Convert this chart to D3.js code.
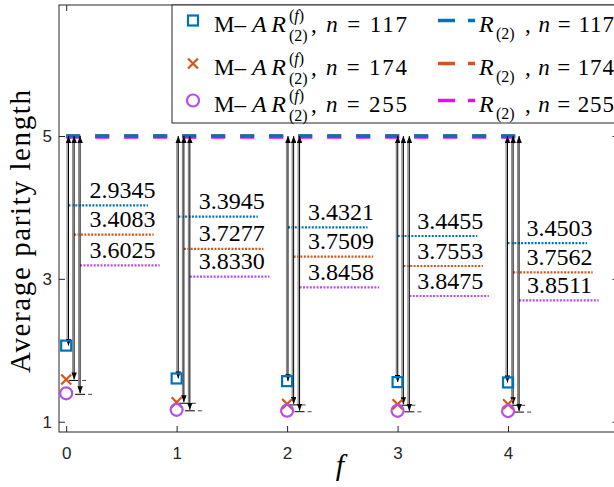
<!DOCTYPE html>
<html>
<head>
<meta charset="utf-8">
<script src="https://cdn.jsdelivr.net/npm/d3@7"></script>
<style>
  body { margin: 0; background: #fff; }
  svg { display: block; }
</style>
</head>
<body>
<div id="chart"></div>
<script>
// failure count f on the x axis
const fValues = [0, 1, 2, 3, 4];
const nValues = [117, 174, 255];

// M-AR^(f)_(2): average parity length per f
const arAvg117 = [2.0655, 1.6055, 1.5679, 1.5545, 1.5497];
const arAvg174 = [1.5917, 1.2723, 1.2491, 1.2447, 1.2438];
const arAvg255 = [1.3975, 1.1670, 1.1542, 1.1525, 1.1489];

// R_(2): flat reference level, same for every n
const rAvg = [5, 5, 5];
const rSpan = [0, 4.14];

// reductions printed beside the arrows
const gap117 = ["2.9345", "3.3945", "3.4321", "3.4455", "3.4503"];
const gap174 = ["3.4083", "3.7277", "3.7509", "3.7553", "3.7562"];
const gap255 = ["3.6025", "3.8330", "3.8458", "3.8475", "3.8511"];
// height (data units) where each printed reduction sits
const gapY117 = [4.03, 3.87, 3.72, 3.60, 3.50];
const gapY174 = [3.62, 3.42, 3.31, 3.18, 3.09];
const gapY255 = [3.19, 3.03, 2.88, 2.76, 2.70];

const yTicks = [1, 3, 5];
const xTicks = [0, 1, 2, 3, 4, 5];

const series = [
  {n: nValues[0], avg: arAvg117, gap: gap117, gapY: gapY117, r: rAvg[0], color: "#0072BD", rColor: "#0072BD", shape: "square"},
  {n: nValues[1], avg: arAvg174, gap: gap174, gapY: gapY174, r: rAvg[1], color: "#D95319", rColor: "#D95319", shape: "cross"},
  {n: nValues[2], avg: arAvg255, gap: gap255, gapY: gapY255, r: rAvg[2], color: "#B64CF2", rColor: "#FF00FF", shape: "circle"}
];

const W = 614, H = 487;
const axisColor = "#262626";
const SERIF = '"Liberation Serif"';
const SANS = '"Liberation Sans"';

const svg = d3.select("#chart").append("svg")
  .attr("width", W)
  .attr("height", H);

const x = d3.scaleLinear().domain([-0.065, 5]).range([59, 618.5]);
const y = d3.scaleLinear().domain([0.856, 6.834]).range([432, 5]);

// serif text helper
const stxt = (g, px, italic) => g.append("text")
  .style("font-family", SERIF)
  .style("font-size", px + "px")
  .style("font-style", italic ? "italic" : "normal")
  .attr("fill", "#000");

// arrowhead
svg.append("defs").append("marker")
  .attr("id", "ah")
  .attr("viewBox", "0 0 10 10")
  .attr("refX", 10).attr("refY", 5)
  .attr("markerWidth", 7).attr("markerHeight", 5.5)
  .attr("markerUnits", "userSpaceOnUse")
  .attr("preserveAspectRatio", "none")
  .attr("orient", "auto-start-reverse")
  .append("path")
    .attr("d", "M0,0 L10,5 L0,10 z")
    .attr("fill", "#000");

// ---- axes (ticks inward on all four sides) ----
const styleAxis = g => {
  g.select(".domain").remove();
  g.selectAll(".tick line").attr("stroke", axisColor);
  g.selectAll("text").attr("fill", axisColor)
    .style("font-family", SANS).style("font-size", "17px");
};

svg.append("g")
  .attr("transform", "translate(59,0)")
  .call(d3.axisLeft(y).tickValues(yTicks).tickFormat(d3.format("d")).tickSize(-6).tickSizeOuter(0).tickPadding(7))
  .call(styleAxis);
svg.append("g")
  .attr("transform", `translate(${x.range()[1]},0)`)
  .call(d3.axisRight(y).tickValues(yTicks).tickSize(-6).tickSizeOuter(0).tickFormat(""))
  .call(styleAxis);
svg.append("g")
  .attr("transform", "translate(0,432)")
  .call(d3.axisBottom(x).tickValues(xTicks.slice(0, 5)).tickFormat(d3.format("d")).tickSize(-6).tickSizeOuter(0).tickPadding(15))
  .call(styleAxis);
svg.append("g")
  .attr("transform", "translate(0,5)")
  .call(d3.axisTop(x).tickValues(xTicks).tickSize(-6).tickSizeOuter(0).tickFormat(""))
  .call(styleAxis);

svg.append("rect")
  .attr("x", x.range()[0]).attr("y", y.range()[1])
  .attr("width", x.range()[1] - x.range()[0])
  .attr("height", y.range()[0] - y.range()[1])
  .attr("fill", "none")
  .attr("stroke", axisColor)
  .attr("stroke-width", 1);

// axis titles
stxt(svg, 29, false)
  .attr("transform", "translate(30,231.5) rotate(-90)")
  .attr("text-anchor", "middle")
  .attr("textLength", 283)
  .attr("lengthAdjust", "spacing")
  .text("Average parity length");

stxt(svg, 30, true)
  .attr("x", 340).attr("y", 475)
  .attr("text-anchor", "middle")
  .text("f");

// ---- R_(2) dashed reference lines ----
const rOrder = [1, 2, 0];
rOrder.forEach(i => {
  const s = series[i];
  svg.append("line")
    .attr("x1", x(rSpan[0])).attr("x2", x(rSpan[1]))
    .attr("y1", y(s.r)).attr("y2", y(s.r))
    .attr("stroke", s.rColor)
    .attr("stroke-width", 3.5)
    .attr("stroke-dasharray", "14,15")
    .attr("transform", i === 2 ? "translate(0,0.9)" : null);
});

// arrow x position for series k at given f (shifted right of the marker)
const arrowShift = [0.021, 0.072, 0.126];
const arrowX = (f, k) => x(f + arrowShift[k] - 0.0065 * f);

// ---- dotted label lines + numbers ----
series.forEach((s, k) => {
  const g = svg.append("g");
  g.selectAll("line")
    .data(fValues)
    .join("line")
      .attr("x1", f => arrowX(f, k))
      .attr("x2", f => arrowX(f, k) + (x(0.72) - x(0)))
      .attr("y1", (f, i) => y(s.gapY[i]))
      .attr("y2", (f, i) => y(s.gapY[i]))
      .attr("stroke", s.color)
      .attr("stroke-width", 2.2)
      .attr("stroke-dasharray", "2,1.4");
  g.selectAll("text")
    .data(fValues)
    .join("text")
      .style("font-family", SERIF)
      .style("font-size", "24px")
      .attr("x", f => x(f + 0.51 - 0.011 * f))
      .attr("y", (f, i) => y(s.gapY[i]) - 7.5)
      .attr("text-anchor", "middle")
      .attr("fill", "#000")
      .text((f, i) => s.gap[i]);
});

// ---- double arrows from R_(2) level down to each M-AR value ----
series.forEach((s, k) => {
  const g = svg.append("g");
  g.selectAll("line.shade")
    .data(fValues)
    .join("line")
      .attr("class", "shade")
      .attr("x1", f => arrowX(f, k) - 1.4)
      .attr("x2", f => arrowX(f, k) - 1.4)
      .attr("y1", y(s.r) + 6)
      .attr("y2", (f, i) => y(s.avg[i]) - 6)
      .attr("stroke", "#8a8a8a")
      .attr("stroke-width", 1.3);
  g.selectAll("line.arrow")
    .data(fValues)
    .join("line")
      .attr("class", "arrow")
      .attr("x1", f => arrowX(f, k))
      .attr("x2", f => arrowX(f, k))
      .attr("y1", y(s.r))
      .attr("y2", (f, i) => y(s.avg[i]))
      .attr("stroke", "#000")
      .attr("stroke-width", 1)
      .attr("marker-start", "url(#ah)")
      .attr("marker-end", "url(#ah)");
  if (k > 0) {
    g.selectAll("line.cap")
      .data(fValues)
      .join("line")
        .attr("class", "cap")
        .attr("x1", f => arrowX(f, k) - 5)
        .attr("x2", f => arrowX(f, k) + 5)
        .attr("y1", (f, i) => y(s.avg[i]) + 1)
        .attr("y2", (f, i) => y(s.avg[i]) + 1)
        .attr("stroke", "#000")
        .attr("stroke-width", 1);
    g.selectAll("line.dash")
      .data(fValues)
      .join("line")
        .attr("class", "dash")
        .attr("x1", f => arrowX(f, k) + 8)
        .attr("x2", f => arrowX(f, k) + 12)
        .attr("y1", (f, i) => y(s.avg[i]) + 1)
        .attr("y2", (f, i) => y(s.avg[i]) + 1)
        .attr("stroke", "#444")
        .attr("stroke-width", 1);
  }
});

// ---- markers ----
function drawMarker(g, shape, cx, cy, color) {
  if (shape === "square") {
    g.append("rect")
      .attr("x", cx - 5).attr("y", cy - 5)
      .attr("width", 10).attr("height", 10)
      .attr("fill", "none").attr("stroke", color).attr("stroke-width", 2.2);
  } else if (shape === "cross") {
    g.append("path")
      .attr("d", `M${cx - 5},${cy - 5}L${cx + 5},${cy + 5}M${cx - 5},${cy + 5}L${cx + 5},${cy - 5}`)
      .attr("stroke", color).attr("stroke-width", 2.2);
  } else {
    g.append("circle")
      .attr("cx", cx).attr("cy", cy).attr("r", 6)
      .attr("fill", "none").attr("stroke", color).attr("stroke-width", 2.2);
  }
}

series.forEach(s => {
  const g = svg.append("g");
  fValues.forEach((f, i) => drawMarker(g, s.shape, x(f), y(s.avg[i]), s.color));
});

// ---- legend ----
const legend = svg.append("g");
legend.append("rect")
  .attr("x", 172).attr("y", 5)
  .attr("width", 460).attr("height", 118)
  .attr("fill", "#fff")
  .attr("stroke", axisColor)
  .attr("stroke-width", 1);

const rowBase = [32, 75, 112];
series.forEach((s, k) => {
  const b = rowBase[k];
  const row = legend.append("g");
  drawMarker(row, s.shape, 193, b - 11.5, s.color);

  stxt(row, 23, false).attr("x", 214).attr("y", b).text("M–");
  stxt(row, 24, true).attr("x", 252).attr("y", b)
    .attr("textLength", 34).attr("lengthAdjust", "spacing").text("AR");
  const sup = stxt(row, 16, false).attr("x", 289).attr("y", b - 11);
  sup.append("tspan").text("(");
  sup.append("tspan").style("font-style", "italic").text("f");
  sup.append("tspan").text(")");
  stxt(row, 16, false).attr("x", 289).attr("y", b + 9).text("(2)");
  const tail = stxt(row, 23, false).attr("x", 311).attr("y", b)
    .attr("textLength", 96).attr("lengthAdjust", "spacing");
  tail.append("tspan").text(", ");
  tail.append("tspan").style("font-style", "italic").text("n");
  tail.append("tspan").text(" = " + s.n);

  // R_(2) entry
  row.append("line")
    .attr("x1", 438).attr("x2", 475)
    .attr("y1", b - 11.5).attr("y2", b - 11.5)
    .attr("stroke", s.rColor).attr("stroke-width", 3.5)
    .attr("stroke-dasharray", "17,13");
  stxt(row, 24, true).attr("x", 479).attr("y", b).text("R");
  stxt(row, 16, false).attr("x", 496).attr("y", b + 7).text("(2)");
  const tail2 = stxt(row, 23, false).attr("x", 525).attr("y", b)
    .attr("textLength", 89).attr("lengthAdjust", "spacing");
  tail2.append("tspan").text(", ");
  tail2.append("tspan").style("font-style", "italic").text("n");
  tail2.append("tspan").text(" = " + s.n);
});
</script>
</body>
</html>
